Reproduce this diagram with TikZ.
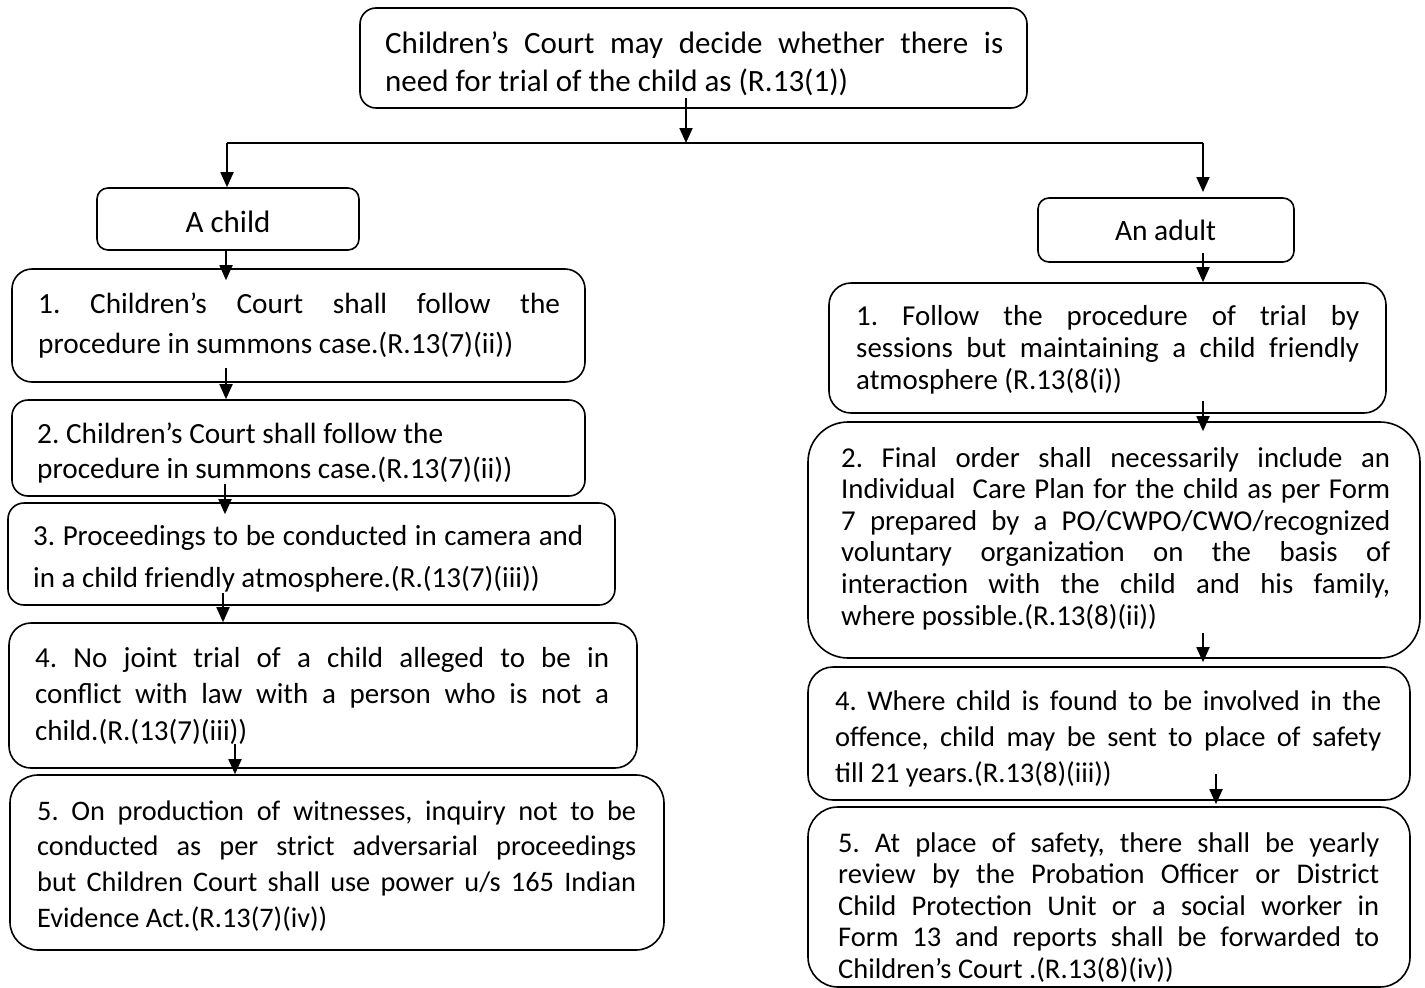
\documentclass[tikz,border=0pt]{standalone}
\usepackage{fontspec}
\setmainfont{Carlito}
\usetikzlibrary{arrows.meta,calc}
\newcommand\fsz[2]{\fontsize{#1pt}{#2pt}\selectfont}
\newcommand\jline[1]{\makebox[\linewidth][s]{#1}}
\frenchspacing
\begin{document}
\begin{tikzpicture}[x=1pt,y=-1pt,
  bx/.style={draw, line width=1.6pt, inner sep=0pt},
  txt/.style={inner sep=0pt, anchor=base west},
  ctxt/.style={inner sep=0pt, anchor=base},
  conn/.style={line width=1.8pt},
  arr/.style={line width=1.8pt, -{Triangle[width=13pt,length=15pt]}}]
\useasboundingbox (0,0) rectangle (1425,988);
\clip (0,0) rectangle (1425,988);

% boxes
\node[bx, rounded corners=16pt, minimum width=667pt, minimum height=100pt] (top) at (693.5,58) {};
\node[bx, rounded corners=11pt, minimum width=262pt, minimum height=62pt] (achild) at (228,219) {};
\node[bx, rounded corners=11pt, minimum width=256pt, minimum height=64pt] (adult) at (1166,230) {};
\node[bx, rounded corners=20pt, minimum width=573pt, minimum height=113pt] (L1) at (298.5,325.5) {};
\node[bx, rounded corners=16pt, minimum width=573pt, minimum height=96pt] (L2) at (298.5,448) {};
\node[bx, rounded corners=16pt, minimum width=607pt, minimum height=102pt] (L3) at (311.5,554) {};
\node[bx, rounded corners=22pt, minimum width=628pt, minimum height=145pt] (L4) at (323,695.5) {};
\node[bx, rounded corners=28pt, minimum width=654pt, minimum height=175pt] (L5) at (337,862.5) {};
\node[bx, rounded corners=22pt, minimum width=557pt, minimum height=130pt] (R1) at (1107.5,348) {};
\node[bx, rounded corners=40pt, minimum width=612pt, minimum height=236pt] (R2) at (1114,540) {};
\node[bx, rounded corners=25pt, minimum width=602pt, minimum height=133pt] (R3) at (1109,733.5) {};
\node[bx, rounded corners=30pt, minimum width=602pt, minimum height=180pt] (R5) at (1109,897) {};

% texts
\node[txt] (ttop) at (385,53) {\parbox[t]{618pt}{\fsz{31}{38.5}\jline{Children’s Court may decide whether there is}\\need for trial of the child as (R.13(1))}};
\node[ctxt] (tchild) at (228,232) {\fsz{31}{36}A child};
\node[ctxt] (tadult) at (1165.5,240) {\fsz{29.5}{34}An adult};
\node[txt] (tL1) at (38,313) {\parbox[t]{522pt}{\fsz{29.3}{40}\jline{1. Children’s Court shall follow the}\\procedure in summons case.(R.13(7)(ii))}};
\node[txt] (tL2) at (37,443) {\parbox[t]{540pt}{\fsz{29.3}{35}2. Children’s Court shall follow the\\procedure in summons case.(R.13(7)(ii))}};
\node[txt] (tL3) at (33,545) {\parbox[t]{550pt}{\fsz{29}{42}\jline{3. Proceedings to be conducted in camera and}\\in a child friendly atmosphere.(R.(13(7)(iii))}};
\node[txt] (tL4) at (35,667) {\parbox[t]{574pt}{\fsz{29}{36.5}\jline{4. No joint trial of a child alleged to be in}\\\jline{conflict with law with a person who is not a}\\child.(R.(13(7)(iii))}};
\node[txt] (tL5) at (37,820) {\parbox[t]{599pt}{\fsz{28.3}{35.7}\jline{5. On production of witnesses, inquiry not to be}\\\jline{conducted as per strict adversarial proceedings}\\\jline{but Children Court shall use power u/s 165 Indian}\\Evidence Act.(R.13(7)(iv))}};
\node[txt] (tR1) at (856,325) {\parbox[t]{503pt}{\fsz{28.9}{32}\jline{1. Follow the procedure of trial by}\\\jline{sessions but maintaining a child friendly}\\atmosphere (R.13(8(i))}};
\node[txt] (tR2) at (841,467) {\parbox[t]{549pt}{\fsz{28.8}{31.6}\jline{2. Final order shall necessarily include an}\\\jline{Individual\ \ Care Plan for the child as per Form}\\\jline{7 prepared by a PO/CWPO/CWO/recognized}\\\jline{voluntary organization on the basis of}\\\jline{interaction with the child and his family,}\\where possible.(R.13(8)(ii))}};
\node[txt] (tR3) at (835,710) {\parbox[t]{546pt}{\fsz{28.5}{36}\jline{4. Where child is found to be involved in the}\\\jline{offence, child may be sent to place of safety}\\till 21 years.(R.13(8)(iii))}};
\node[txt] (tR5) at (838,852) {\parbox[t]{541pt}{\fsz{28.5}{31.5}\jline{5. At place of safety, there shall be yearly}\\\jline{review by the Probation Officer or District}\\\jline{Child Protection Unit or a social worker in}\\\jline{Form 13 and reports shall be forwarded to}\\Children’s Court .(R.13(8)(iv))}};

% connector columns
\coordinate (hm) at (686,143);
\coordinate (hL) at (227,143);
\coordinate (hR) at (1203,143);
\coordinate (aR) at (1203,192);
\coordinate (c226) at (226,0);
\coordinate (c225) at (225,0);
\coordinate (c223) at (223,0);
\coordinate (c235) at (235,0);
\coordinate (c1203) at (1203,0);
\coordinate (c1216) at (1216,0);

% connectors
\draw[arr] ($(top.south)+(-7.5,-11)$) -- (hm);
\draw[conn] (hL) -- (hR);
\draw[arr] (hL) -- (hL |- achild.north);
\draw[arr] (hR) -- (aR);
\draw[arr] (achild.south -| c226) -- ($(L1.north -| c226)+(0,12)$);
\draw[arr] ($(L1.south -| c226)+(0,-15)$) -- (L2.north -| c226);
\draw[arr] ($(L2.south -| c225)+(0,-13)$) -- ($(L3.north -| c225)+(0,12)$);
\draw[arr] ($(L3.south -| c223)+(0,-13)$) -- (L4.north -| c223);
\draw[arr] ($(L4.south -| c235)+(0,-25)$) -- (L5.north -| c235);
\draw[arr] ($(adult.south -| c1203)+(0,-10)$) -- (R1.north -| c1203);
\draw[arr] ($(R1.south -| c1203)+(0,-13)$) -- ($(R2.north -| c1203)+(0,10)$);
\draw[arr] ($(R2.south -| c1203)+(0,-26)$) -- ($(R3.north -| c1203)+(0,-4)$);
\draw[arr] ($(R3.south -| c1216)+(0,-27)$) -- ($(R5.north -| c1216)+(0,-2)$);
\end{tikzpicture}
\end{document}
